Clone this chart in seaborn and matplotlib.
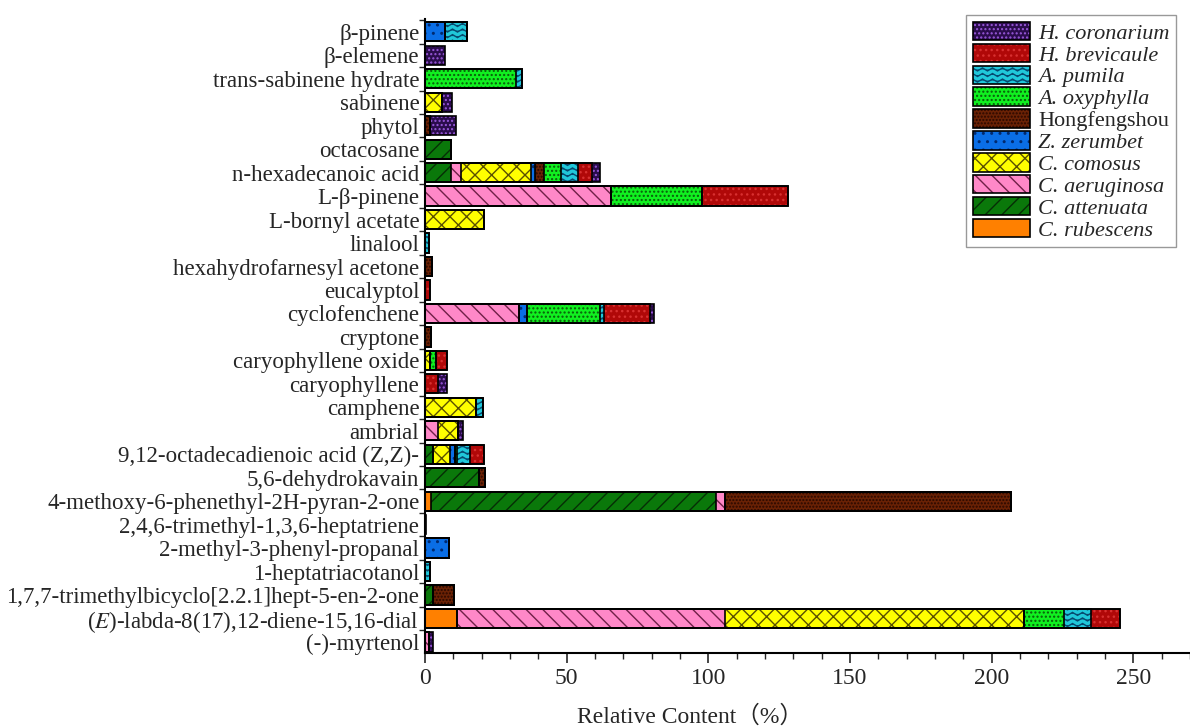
import numpy as np
import matplotlib
matplotlib.use("Agg")
import matplotlib.pyplot as plt
from matplotlib import hatch as mhatch
from matplotlib.path import Path
from matplotlib.patches import Patch
from matplotlib.ticker import MultipleLocator, FixedLocator
import seaborn as sns

# compounds, top to bottom
compounds = [
    "β-pinene", "β-elemene", "trans-sabinene hydrate", "sabinene", "phytol",
    "octacosane", "n-hexadecanoic acid", "L-β-pinene", "L-bornyl acetate",
    "linalool", "hexahydrofarnesyl acetone", "eucalyptol", "cyclofenchene",
    "cryptone", "caryophyllene oxide", "caryophyllene", "camphene", "ambrial",
    "9,12-octadecadienoic acid (Z,Z)-", "5,6-dehydrokavain",
    "4-methoxy-6-phenethyl-2H-pyran-2-one", "2,4,6-trimethyl-1,3,6-heptatriene",
    "2-methyl-3-phenyl-propanal", "1-heptatriacotanol",
    "1,7,7-trimethylbicyclo[2.2.1]hept-5-en-2-one",
    r"($\mathit{E}$)-labda-8(17),12-diene-15,16-dial", "(-)-myrtenol",
]

# relative content (%) per species, same order as compounds
c_rubescens  = [0, 0, 0, 0, 0, 0, 0, 0, 0, 0, 0, 0, 0, 0, 0, 0, 0, 0, 0, 0, 2.1, 0, 0, 0, 0, 11.2, 0]
c_attenuata  = [0, 0, 0, 0, 0, 9.2, 9.2, 0, 0, 0, 0, 0, 0, 0, 0, 0, 0, 0, 2.9, 19.0, 100.8, 0, 0, 0, 2.9, 0, 0]
c_aeruginosa = [0, 0, 0, 0, 0, 0, 3.5, 65.6, 0, 0, 0, 0, 33.2, 0, 0, 0, 0, 4.7, 0, 0, 2.9, 0, 0, 0, 0, 94.7, 1.4]
c_comosus    = [0, 0, 0, 6.0, 0, 0, 24.9, 0, 20.8, 0, 0, 0, 0, 0, 1.8, 0, 18.2, 7.0, 5.9, 0, 0, 0, 0, 0, 0, 105.6, 0]
z_zerumbet   = [7.0, 0, 0, 0, 0, 0, 1.4, 0, 0, 0, 0, 0, 2.7, 0, 0, 0, 0, 0, 1.8, 0, 0, 0, 8.6, 0, 0, 0, 0]
hongfengshou = [0, 0, 0, 0, 1.8, 0, 3.0, 0, 0, 0, 2.5, 0, 0, 2.2, 0, 0, 0, 0, 0, 2.2, 101.2, 0, 0, 0, 7.4, 0, 0]
a_oxyphylla  = [0, 0, 32.1, 0, 0, 0, 6.0, 32.2, 0, 0, 0, 0, 25.8, 0, 2.3, 0, 0, 0, 0.9, 0, 0, 0, 0, 0, 0, 14.1, 0]
a_pumila     = [8.0, 0, 2.1, 0, 0, 0, 6.0, 0, 0, 1.4, 0, 0, 1.4, 0, 0, 0, 2.2, 0, 4.4, 0, 0, 0, 0, 1.8, 0, 9.4, 0]
h_brevicaule = [0, 0, 0, 0, 0, 0, 4.9, 30.4, 0, 0, 0, 2.0, 16.3, 0, 3.8, 4.7, 0, 0, 4.9, 0, 0, 0, 0, 0, 0, 10.2, 0]
h_coronarium = [0, 7.0, 0, 3.6, 9.2, 0, 2.8, 0, 0, 0, 0, 0, 1.4, 0, 0, 3.2, 0, 1.8, 0, 0, 0, 0.5, 0, 0, 0, 0, 1.5]

# stacking order, left to right
species = ["C. rubescens", "C. attenuata", "C. aeruginosa", "C. comosus", "Z. zerumbet",
           "Hongfengshou", "A. oxyphylla", "A. pumila", "H. brevicaule", "H. coronarium"]
series = [c_rubescens, c_attenuata, c_aeruginosa, c_comosus, z_zerumbet,
          hongfengshou, a_oxyphylla, a_pumila, h_brevicaule, h_coronarium]
face_colors = ["#ff8000", "#0a780a", "#ff88c8", "#ffff00", "#0a6ee6",
               "#6a2205", "#10f020", "#20c8da", "#b00808", "#2a0c4c"]
hatch_colors = ["#ff8000", "#062e06", "#702048", "#5a5000", "#002a70",
                "#2a0800", "#0a5a0a", "#064a70", "#d83030", "#9a58dc"]
hatches = [None, "//", "\\\\", "xx", "..", ".....", "....", "---", "...", "...."]


class WaveHatch(mhatch.HatchPatternBase):
    # wavy lines instead of straight ones for '-'
    def __init__(self, hatch, density):
        self.num_lines = int(hatch.count("-") * density)
        self.num_points = 41
        self.num_vertices = self.num_lines * self.num_points

    def set_vertices_and_codes(self, vertices, codes):
        steps, stepsize = np.linspace(0.0, 1.0, self.num_lines, False, retstep=True)
        steps += stepsize / 2.0
        xs = np.linspace(0.0, 1.0, self.num_points)
        wave = 0.015 * np.sin(2 * np.pi * 10 * xs)
        for i, y0 in enumerate(steps):
            start = i * self.num_points
            vertices[start:start + self.num_points, 0] = xs
            vertices[start:start + self.num_points, 1] = y0 + wave
            codes[start:start + self.num_points] = Path.LINETO
            codes[start] = Path.MOVETO


mhatch._hatch_types = [WaveHatch if h is mhatch.HorizontalHatch else h for h in mhatch._hatch_types]

sns.set_style("ticks")
plt.rcParams["font.family"] = ["Liberation Serif", "Noto Sans CJK SC"]
plt.rcParams["mathtext.fontset"] = "stix"
plt.rcParams["hatch.linewidth"] = 1.0

fig = plt.figure(figsize=(11.9, 7.28), dpi=100)
ax = fig.add_axes([0.357, 0.103, 0.643, 0.871])

cum = np.cumsum(np.array(series), axis=0)

# filled layers, longest first so each shorter one covers it
for k in range(len(species) - 1, -1, -1):
    sns.barplot(x=cum[k], y=compounds, order=compounds, orient="y", width=0.82,
                saturation=1, color=face_colors[k], edgecolor=hatch_colors[k],
                linewidth=0, hatch=hatches[k], errorbar=None, ax=ax)
# black outlines of every segment
for k in range(len(species)):
    sns.barplot(x=cum[k], y=compounds, order=compounds, orient="y", width=0.82,
                fill=False, color="black", linewidth=1.2, errorbar=None, ax=ax)

ax.set_xlim(0, 270)
ax.set_ylim(len(compounds) - 0.53, -0.55)
ax.set_ylabel("")
ax.set_xlabel("Relative Content（%）", fontsize=17)
ax.xaxis.set_label_coords(0.346, -0.083)

ax.xaxis.set_major_locator(MultipleLocator(50))
ax.xaxis.set_minor_locator(MultipleLocator(10))
ax.tick_params(axis="x", which="major", length=7, width=1.2, labelsize=17, direction="out")
ax.tick_params(axis="x", which="minor", length=4, width=1.0, direction="out")
ax.yaxis.set_minor_locator(FixedLocator(np.arange(-0.5, len(compounds), 1)))
ax.tick_params(axis="y", which="major", length=0, pad=4, labelsize=16.5)
ax.tick_params(axis="y", which="minor", length=4, width=1.0, direction="out")

sns.despine(ax=ax)
for side in ["left", "bottom"]:
    ax.spines[side].set_linewidth(1.5)
    ax.spines[side].set_color("black")

handles = []
for k in range(len(species) - 1, -1, -1):
    fill = Patch(facecolor=face_colors[k], edgecolor=hatch_colors[k], linewidth=0, hatch=hatches[k])
    outline = Patch(facecolor="none", edgecolor="black", linewidth=1.2)
    handles.append((fill, outline))
leg = ax.legend(handles, species[::-1], loc="upper right", bbox_to_anchor=(0.982, 1.006),
                borderaxespad=0, fontsize=16, labelspacing=0.0, handlelength=2.6,
                handleheight=0.9, handletextpad=0.35, borderpad=0.3,
                frameon=True, fancybox=False, framealpha=1, edgecolor="#999999")
leg.get_frame().set_linewidth(1.0)
for txt in leg.get_texts():
    if txt.get_text() != "Hongfengshou":
        txt.set_fontstyle("italic")

fig.savefig("out.png", dpi=100)
